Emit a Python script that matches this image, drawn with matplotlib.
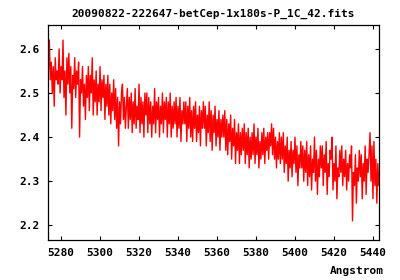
import numpy as np
import matplotlib
matplotlib.use('Agg')
import matplotlib.pyplot as plt

title = '20090822-222647-betCep-1x180s-P_1C_42.fits'
x_label = 'Angstrom'

# spectrum sampling (like CRVAL1 / CDELT1 in the fits header)
wl_start = 5273.5
wl_step = 0.5

# flux, 20 samples (10 Angstrom) per row
flux = [
    2.55, 2.62, 2.53, 2.57, 2.50, 2.56, 2.47, 2.58, 2.53, 2.55, 2.52, 2.60, 2.50, 2.56, 2.53, 2.62, 2.49, 2.55, 2.45, 2.58,
    2.52, 2.59, 2.50, 2.56, 2.42, 2.54, 2.51, 2.58, 2.49, 2.55, 2.52, 2.57, 2.40, 2.53, 2.50, 2.56, 2.47, 2.52, 2.44, 2.54,
    2.49, 2.56, 2.46, 2.54, 2.50, 2.58, 2.45, 2.53, 2.48, 2.55, 2.45, 2.52, 2.48, 2.56, 2.46, 2.53, 2.49, 2.54, 2.44, 2.52,
    2.47, 2.54, 2.45, 2.52, 2.43, 2.50, 2.46, 2.53, 2.44, 2.51, 2.42, 2.49, 2.38, 2.48, 2.43, 2.50, 2.52, 2.44, 2.49, 2.42,
    2.47, 2.51, 2.42, 2.49, 2.44, 2.50, 2.41, 2.48, 2.43, 2.51, 2.42, 2.47, 2.44, 2.52, 2.41, 2.49, 2.43, 2.48, 2.40, 2.50,
    2.45, 2.50, 2.41, 2.49, 2.43, 2.48, 2.40, 2.47, 2.43, 2.51, 2.41, 2.48, 2.44, 2.49, 2.40, 2.47, 2.43, 2.50, 2.41, 2.48,
    2.44, 2.49, 2.40, 2.48, 2.43, 2.50, 2.40, 2.47, 2.42, 2.48, 2.43, 2.49, 2.40, 2.47, 2.42, 2.49, 2.39, 2.46, 2.43, 2.48,
    2.43, 2.48, 2.39, 2.47, 2.42, 2.49, 2.40, 2.46, 2.39, 2.47, 2.42, 2.48, 2.39, 2.45, 2.41, 2.47, 2.38, 2.46, 2.42, 2.48,
    2.42, 2.47, 2.38, 2.45, 2.41, 2.48, 2.39, 2.46, 2.37, 2.45, 2.41, 2.47, 2.38, 2.44, 2.40, 2.46, 2.37, 2.44, 2.40, 2.45,
    2.40, 2.46, 2.37, 2.44, 2.36, 2.43, 2.39, 2.45, 2.35, 2.42, 2.38, 2.44, 2.34, 2.41, 2.37, 2.43, 2.34, 2.41, 2.36, 2.42,
    2.37, 2.43, 2.34, 2.41, 2.36, 2.42, 2.33, 2.40, 2.35, 2.41, 2.36, 2.43, 2.34, 2.40, 2.36, 2.42, 2.33, 2.39, 2.35, 2.41,
    2.36, 2.42, 2.34, 2.40, 2.37, 2.41, 2.35, 2.41, 2.38, 2.43, 2.36, 2.42, 2.35, 2.40, 2.33, 2.39, 2.35, 2.41, 2.34, 2.40,
    2.35, 2.41, 2.32, 2.38, 2.34, 2.40, 2.30, 2.37, 2.33, 2.39, 2.31, 2.37, 2.34, 2.40, 2.32, 2.38, 2.29, 2.36, 2.33, 2.39,
    2.33, 2.38, 2.30, 2.37, 2.32, 2.39, 2.29, 2.36, 2.31, 2.38, 2.28, 2.35, 2.32, 2.40, 2.30, 2.37, 2.27, 2.35, 2.31, 2.38,
    2.33, 2.38, 2.29, 2.36, 2.32, 2.39, 2.27, 2.34, 2.31, 2.37, 2.35, 2.40, 2.28, 2.34, 2.30, 2.38, 2.26, 2.33, 2.31, 2.37,
    2.32, 2.38, 2.29, 2.35, 2.31, 2.37, 2.28, 2.34, 2.30, 2.36, 2.33, 2.38, 2.21, 2.32, 2.29, 2.36, 2.25, 2.33, 2.30, 2.37,
    2.31, 2.36, 2.26, 2.34, 2.30, 2.38, 2.27, 2.35, 2.32, 2.36, 2.41, 2.30, 2.38, 2.26, 2.39, 2.29, 2.35, 2.25, 2.34, 2.29,
]
wavelength = wl_start + wl_step * np.arange(len(flux))

x_ticks = [5280, 5300, 5320, 5340, 5360, 5380, 5400, 5420, 5440]
y_ticks = [2.2, 2.3, 2.4, 2.5, 2.6]

font = dict(family='DejaVu Sans Mono', weight='bold', size=8)

fig = plt.figure(figsize=(4, 2.8), dpi=100)
ax = fig.add_axes([0.12, 0.143, 0.8275, 0.768])

ax.plot(wavelength, flux, color='red', linewidth=1.0)

ax.set_xlim(5273.3, 5443.1)
ax.set_ylim(2.1666, 2.6545)
ax.set_xticks(x_ticks)
ax.set_yticks(y_ticks)
ax.set_xticklabels([str(t) for t in x_ticks], **font)
ax.set_yticklabels([f'{t:.1f}' for t in y_ticks], **font)
ax.tick_params(direction='in', length=3, width=0.8, top=True, right=True, pad=6)
for s in ax.spines.values():
    s.set_linewidth(0.9)

ax.set_title(title, pad=6, **font)
fig.text(384 / 400, 1 - 271 / 280, x_label, ha='right', va='center', **font)

fig.savefig('out.png', dpi=100)
